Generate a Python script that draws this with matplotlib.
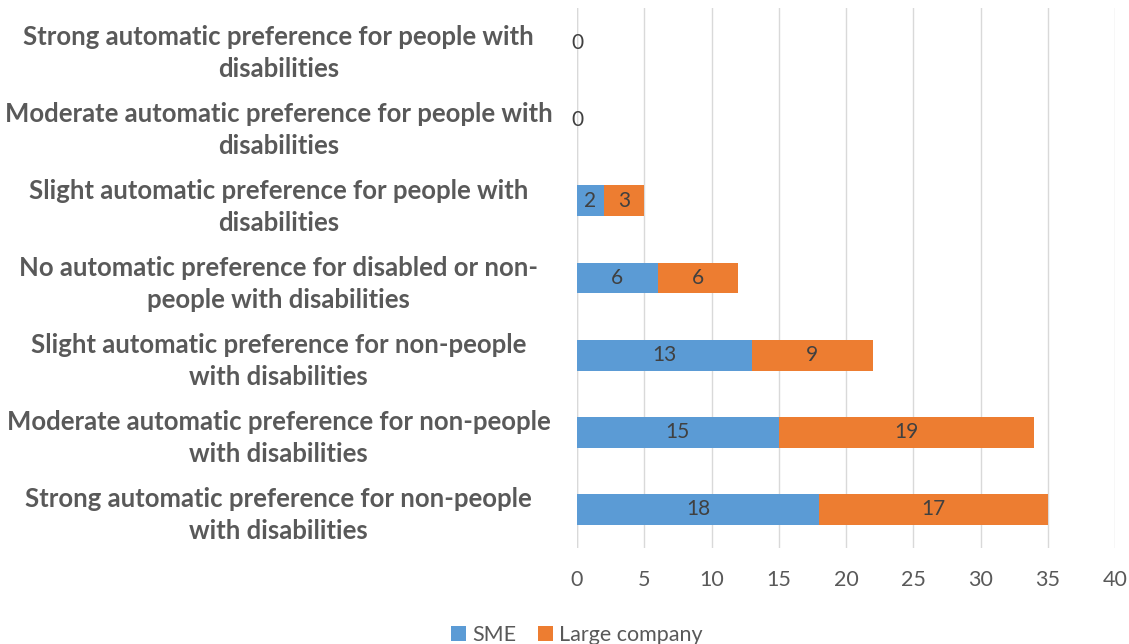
import matplotlib.pyplot as plt
import numpy as np

categories = [
    "Strong automatic preference for people with\ndisabilities",
    "Moderate automatic preference for people with\ndisabilities",
    "Slight automatic preference for people with\ndisabilities",
    "No automatic preference for disabled or non-\npeople with disabilities",
    "Slight automatic preference for non-people\nwith disabilities",
    "Moderate automatic preference for non-people\nwith disabilities",
    "Strong automatic preference for non-people\nwith disabilities",
]
sme = [0, 0, 2, 6, 13, 15, 18]
large = [0, 0, 3, 6, 9, 19, 17]
x_ticks = [0, 5, 10, 15, 20, 25, 30, 35, 40]

blue = "#5B9BD5"
orange = "#ED7D31"
gray = "#595959"

plt.rcParams["font.family"] = ["Lato", "DejaVu Sans"]

fig = plt.figure(figsize=(11.29, 6.44), dpi=100)
ax = fig.add_axes([577 / 1129, 96 / 644, 538 / 1129, 540 / 644])

y = np.arange(len(categories))
h = 0.4
ax.barh(y, sme, height=h, color=blue, label="SME", zorder=3)
ax.barh(y, large, height=h, left=sme, color=orange, label="Large company", zorder=3)

for i, (a, b) in enumerate(zip(sme, large)):
    if a == 0 and b == 0:
        ax.text(0, i - 0.05, "0", ha="center", va="center", fontsize=15, color="#404040")
        continue
    ax.text(a / 2, i, str(a), ha="center", va="center", fontsize=15, color="#404040", zorder=4)
    ax.text(a + b / 2, i, str(b), ha="center", va="center", fontsize=15, color="#404040", zorder=4)

ax.set_ylim(len(categories) - 0.5, -0.5)
ax.set_xlim(0, 40)
ax.set_xticks(x_ticks)
ax.set_yticks(y)
ax.set_yticklabels(categories, fontsize=18.5, fontweight="bold", color=gray,
                   ha="center", linespacing=1.4)
ax.tick_params(axis="y", length=0, pad=215)
ax.tick_params(axis="x", length=0, labelsize=15.5, labelcolor=gray, pad=16)
ax.grid(axis="x", color="#D9D9D9", linewidth=1, zorder=0)
for s in ax.spines.values():
    s.set_visible(False)
ax.axvline(0, color="#D9D9D9", linewidth=1, zorder=1)

fig.legend(loc="center", bbox_to_anchor=(0.511, 0.014), ncol=2, frameon=False,
           fontsize=15.5, labelcolor=gray, handlelength=0.7, handleheight=0.7,
           handletextpad=0.3, columnspacing=1.0)

fig.savefig("out.png", dpi=100)
